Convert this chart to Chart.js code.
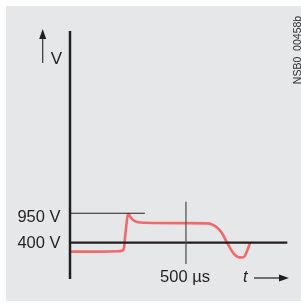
<!DOCTYPE html>
<html><head><meta charset="utf-8">
<script src="https://cdn.jsdelivr.net/npm/chart.js@4/dist/chart.umd.min.js"></script>
<style>html,body{margin:0;padding:0;background:#fff}#w{width:301px;height:303px}</style>
</head><body><div id="w"><canvas id="c"></canvas></div>
<script>
// time in µs, voltage in V
const timeUs = [4,129,207,224,233,237,243,248,252,259,272,289,323,500,591,612,634,655,672,690,707,724,741,754,765,776];
const voltage = [232,232,239,250,301,488,731,900,937,890,825,787,772,765,761,741,684,581,441,301,189,132,123,151,263,389];
const yTickLabels = [{v:950,label:"950 V"},{v:400,label:"400 V"}];
const xTickLabels = [{t:500,label:"500 µs"}];
const xRange = [0, 996];
const yRange = [-280, 4360];
const line950End = 323;
const line400End = 937;
const marker500 = [0, 1167];

const curve = timeUs.map((t,i)=>({x:t,y:voltage[i]}));

const deco = {
  id:'deco',
  beforeDraw(chart){
    const ctx=chart.ctx;
    ctx.save();
    ctx.fillStyle='#fff';ctx.fillRect(0,0,chart.width,chart.height);
    ctx.fillStyle='#e6e7e8';ctx.fillRect(6,6,chart.width-6,chart.height-8);
    ctx.restore();
  },
  afterDatasetsDraw(chart){
    const ctx=chart.ctx, x=chart.scales.x, y=chart.scales.y;
    ctx.save();
    ctx.fillStyle='#231f20';
    ctx.font='16.5px "Liberation Sans", Arial, sans-serif';
    ctx.textAlign='right';ctx.textBaseline='middle';
    const x0=x.getPixelForValue(0);
    yTickLabels.forEach(d=>{
      const py=y.getPixelForValue(d.v);
      ctx.fillText(d.label, x0-9.5, d.v===950? py+4 : py+0.5);
    });
    ctx.textAlign='center';ctx.textBaseline='alphabetic';
    xTickLabels.forEach(d=>{
      ctx.fillText(d.label, x.getPixelForValue(d.t)-1, 282);
    });
    // t arrow
    ctx.font='italic 16.5px "Liberation Sans", Arial, sans-serif';
    ctx.textAlign='left';
    ctx.fillText('t', 243, 282);
    ctx.strokeStyle='#231f20';ctx.lineWidth=1.2;
    ctx.beginPath();ctx.moveTo(254,278);ctx.lineTo(281,278);ctx.stroke();
    ctx.beginPath();ctx.moveTo(289,278);ctx.lineTo(279,274.5);ctx.lineTo(279,281.5);ctx.closePath();ctx.fill();
    // V arrow
    ctx.strokeStyle='#333';
    ctx.beginPath();ctx.moveTo(42.7,63);ctx.lineTo(42.7,37);ctx.stroke();
    ctx.beginPath();ctx.moveTo(42.7,29);ctx.lineTo(39.2,39);ctx.lineTo(46.2,39);ctx.closePath();ctx.fill();
    ctx.font='17px "Liberation Sans", Arial, sans-serif';
    ctx.textAlign='center';
    ctx.fillText('V', 56.5, 63.5);
    // rotated code
    ctx.translate(298,50);ctx.rotate(-Math.PI/2);
    ctx.font='10.5px "Liberation Sans", Arial, sans-serif';
    ctx.textBaseline='middle';ctx.fillStyle='#333';
    ctx.fillText('NSB0_00458b',0,0);
    ctx.restore();
  }
};

new Chart(document.getElementById('c'),{
  type:'line',
  data:{datasets:[
    {data:[{x:0,y:yRange[0]},{x:0,y:yRange[1]}],borderColor:'#231f20',borderWidth:2.5,pointRadius:0,clip:false},
    {data:[{x:0,y:950},{x:line950End,y:950}],borderColor:'#231f20',borderWidth:1,pointRadius:0,clip:false},
    {data:[{x:500,y:marker500[0]},{x:500,y:marker500[1]}],borderColor:'#555',borderWidth:1.3,pointRadius:0,clip:false},
    {data:[{x:0,y:400},{x:line400End,y:400}],borderColor:'#231f20',borderWidth:2.3,pointRadius:0,clip:false},
    {data:curve,borderColor:'#f0696b',borderWidth:2.6,pointRadius:0,cubicInterpolationMode:'monotone',clip:false,borderCapStyle:'round',borderJoinStyle:'round'}
  ]},
  options:{
    responsive:true,maintainAspectRatio:false,animation:false,
    layout:{padding:{left:70,right:0,top:31,bottom:24}},
    plugins:{legend:{display:false},tooltip:{enabled:false}},
    scales:{
      x:{type:'linear',min:xRange[0],max:xRange[1],display:false},
      y:{type:'linear',min:yRange[0],max:yRange[1],display:false}
    }
  },
  plugins:[deco]
});
</script></body></html>
